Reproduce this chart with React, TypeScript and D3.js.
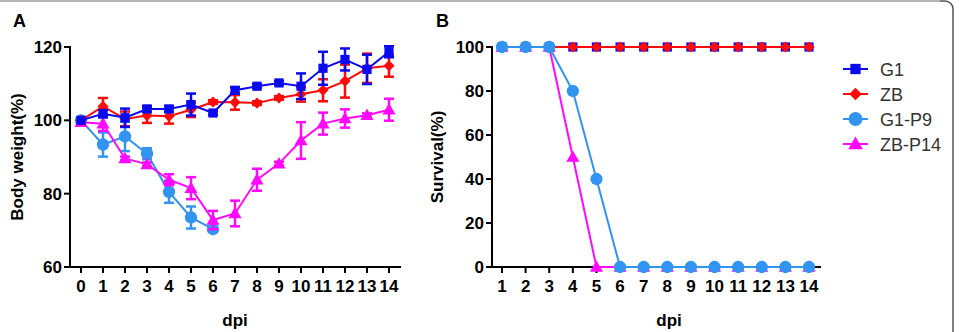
import React from 'react';
import * as d3 from 'd3';

// body weight (panel A), days 0..14
const days = [0, 1, 2, 3, 4, 5, 6, 7, 8, 9, 10, 11, 12, 13, 14];
const g1Weight = [100, 101.8, 100.7, 103.1, 103.1, 104.3, 102.0, 108.2, 109.3, 110.2, 109.3, 114.2, 116.6, 113.9, 118.7];
const g1Err = [0, 1.0, 2.5, 0.8, 0.8, 3.0, 0.5, 0.8, 0.5, 0.5, 3.5, 4.5, 3.0, 4.0, 1.5];
const zbWeight = [100, 103.8, 100.4, 101.3, 101.1, 102.9, 105.0, 104.9, 104.7, 106.1, 107.1, 108.2, 110.7, 114.2, 114.9];
const zbErr = [0, 2.3, 2.0, 2.0, 2.0, 2.0, 0.5, 2.0, 0.5, 0.5, 2.0, 3.0, 4.5, 4.0, 3.0];
const g1p9Weight = [100, 93.4, 95.6, 90.9, 80.5, 73.5, 70.3];
const g1p9Err = [0, 3.3, 4.0, 1.5, 3.0, 3.0, 0.5];
const zbp14Weight = [99.5, 99.1, 89.6, 88.0, 83.8, 81.5, 72.8, 74.6, 83.8, 88.2, 94.5, 99.1, 100.5, 101.4, 102.9];
const zbp14Err = [0.5, 2.0, 0.5, 0.5, 1.5, 3.0, 2.5, 3.5, 3.0, 0.5, 5.0, 3.0, 2.5, 0.5, 3.0];

// survival (panel B), days 1..14
const survDays = [1, 2, 3, 4, 5, 6, 7, 8, 9, 10, 11, 12, 13, 14];
const g1Surv = [100, 100, 100, 100, 100, 100, 100, 100, 100, 100, 100, 100, 100, 100];
const zbSurv = [100, 100, 100, 100, 100, 100, 100, 100, 100, 100, 100, 100, 100, 100];
const g1p9Surv = [100, 100, 100, 80, 40, 0, 0, 0, 0, 0, 0, 0, 0, 0];
const zbp14Surv = [100, 100, 100, 50, 0, 0, 0, 0, 0, 0, 0, 0, 0, 0];

const weightTicks = [60, 80, 100, 120];
const survTicks = [0, 20, 40, 60, 80, 100];
const seriesNames = ['G1', 'ZB', 'G1-P9', 'ZB-P14'];

const colors: Record<string, string> = {
  'G1': '#0a0af0',
  'ZB': '#ff0a0a',
  'G1-P9': '#3194f0',
  'ZB-P14': '#ff0aff',
};

const symPath = (name: string, k = 1) => {
  if (name === 'G1') return d3.symbol().type(d3.symbolSquare).size(85 * k)()!;
  if (name === 'ZB') return d3.symbol().type(d3.symbolSquare).size(62 * k)()!;
  if (name === 'G1-P9') return d3.symbol().type(d3.symbolCircle).size(120 * k)()!;
  return d3.symbol().type(d3.symbolTriangle).size(75 * k)()!;
};

const Marker = ({ name, x, y, k = 1 }: { name: string; x: number; y: number; k?: number }) => (
  <path
    d={symPath(name, k)}
    fill={colors[name]}
    transform={`translate(${x},${y + (name === 'ZB-P14' ? 1 : 0)})${name === 'ZB' ? ' rotate(45)' : ''}`}
  />
);

const FONT = '"Liberation Sans", Arial, sans-serif';

type Series = { name: string; xs: number[]; ys: number[]; err?: number[] };

const Panel = ({
  series, xDomain, xRange, xAxisEnd, yDomain, axisX, ticksX, ticksY, yLabel, letter, letterX, ylabelX, dpiX,
}: {
  series: Series[]; xDomain: [number, number]; xRange: [number, number]; xAxisEnd: number;
  yDomain: [number, number]; axisX: number; ticksX: number[]; ticksY: number[];
  yLabel: string; letter: string; letterX: number; ylabelX: number; dpiX: number;
}) => {
  const x = d3.scaleLinear().domain(xDomain).range(xRange);
  const y = d3.scaleLinear().domain(yDomain).range([267, 47]);
  const line = d3.line<[number, number]>().x((d) => x(d[0])).y((d) => y(d[1]));
  const y0 = y(yDomain[0]);
  return (
    <g>
      <text x={letterX} y={27} fontFamily={FONT} fontWeight="bold" fontSize={18}>{letter}</text>
      {/* axes */}
      <line x1={axisX} x2={axisX} y1={y(yDomain[1]) - 1} y2={y0 + 1} stroke="#000" strokeWidth={2} />
      <line x1={axisX} x2={xAxisEnd} y1={y0} y2={y0} stroke="#000" strokeWidth={2} />
      {ticksY.map((t) => (
        <g key={t}>
          <line x1={axisX - 6} x2={axisX} y1={y(t)} y2={y(t)} stroke="#000" strokeWidth={2} />
          <text x={axisX - 8} y={y(t) + 6} textAnchor="end" fontFamily={FONT} fontWeight="bold" fontSize={17}>{t}</text>
        </g>
      ))}
      {ticksX.map((t) => (
        <g key={t}>
          <line x1={x(t)} x2={x(t)} y1={y0} y2={y0 + 6} stroke="#000" strokeWidth={2} />
          <text x={x(t)} y={y0 + 25} textAnchor="middle" fontFamily={FONT} fontWeight="bold" fontSize={17}>{t}</text>
        </g>
      ))}
      <text x={dpiX} y={326} textAnchor="middle" fontFamily={FONT} fontWeight="bold" fontSize={17}>dpi</text>
      <text transform={`translate(${ylabelX},157) rotate(-90)`} textAnchor="middle" fontFamily={FONT} fontWeight="bold" fontSize={17}>{yLabel}</text>
      {/* series */}
      {series.map((s) => {
        const pts = s.xs.map((d, i) => [d, s.ys[i]] as [number, number]);
        const c = colors[s.name];
        return (
          <g key={s.name}>
            <path d={line(pts)!} fill="none" stroke={c} strokeWidth={2} />
            {s.err && pts.map((p, i) => {
              const e = s.err![i];
              if (!e) return null;
              const top = y(p[1] + e);
              const bot = y(p[1] - e);
              return (
                <g key={i} stroke={c} strokeWidth={2.5}>
                  <line x1={x(p[0])} x2={x(p[0])} y1={top} y2={bot} />
                  <line x1={x(p[0]) - 5} x2={x(p[0]) + 5} y1={top} y2={top} />
                  <line x1={x(p[0]) - 5} x2={x(p[0]) + 5} y1={bot} y2={bot} />
                </g>
              );
            })}
            {pts.map((p, i) => <Marker key={i} name={s.name} x={x(p[0])} y={y(p[1])} />)}
          </g>
        );
      })}
    </g>
  );
};

export default function App() {
  const weightSeries: Series[] = [
    { name: 'G1-P9', xs: days.slice(0, g1p9Weight.length), ys: g1p9Weight, err: g1p9Err },
    { name: 'ZB-P14', xs: days, ys: zbp14Weight, err: zbp14Err },
    { name: 'ZB', xs: days, ys: zbWeight, err: zbErr },
    { name: 'G1', xs: days, ys: g1Weight, err: g1Err },
  ];
  const survSeries: Series[] = [
    { name: 'G1', xs: survDays, ys: g1Surv },
    { name: 'ZB', xs: survDays, ys: zbSurv },
    { name: 'ZB-P14', xs: survDays, ys: zbp14Surv },
    { name: 'G1-P9', xs: survDays, ys: g1p9Surv },
  ];
  return (
    <svg width={959} height={332} style={{ position: 'absolute', left: 0, top: 0, background: '#fff' }}>
      <rect width={959} height={332} fill="#fff" />
      {/* frame */}
      <path d="M0,1 H945 A8,8 0 0 1 953,9 V332" fill="none" stroke="#555" strokeWidth={1.5} />
      <line x1={0} x2={940} y1={1} y2={1} stroke="#c8c8c8" strokeWidth={1.5} />
      <Panel
        series={weightSeries} xDomain={[0, 14]} xRange={[81, 389]} xAxisEnd={401}
        yDomain={[60, 120]} axisX={70} ticksX={days} ticksY={weightTicks}
        yLabel="Body weight(%)" letter="A" letterX={13} ylabelX={23} dpiX={235}
      />
      <Panel
        series={survSeries} xDomain={[1, 14]} xRange={[502, 809]} xAxisEnd={821}
        yDomain={[0, 100]} axisX={492} ticksX={survDays} ticksY={survTicks}
        yLabel="Survival(%)" letter="B" letterX={436} ylabelX={443} dpiX={669}
      />
      {/* legend */}
      {seriesNames.map((n, i) => {
        const ly = 69 + i * 25;
        return (
          <g key={n}>
            <line x1={843} x2={868} y1={ly} y2={ly} stroke={colors[n]} strokeWidth={2} />
            <Marker name={n} x={855.5} y={ly} k={1.25} />
            <text x={880} y={ly + 6.5} fontFamily={FONT} fontSize={18} fill="#333">{n}</text>
          </g>
        );
      })}
    </svg>
  );
}
